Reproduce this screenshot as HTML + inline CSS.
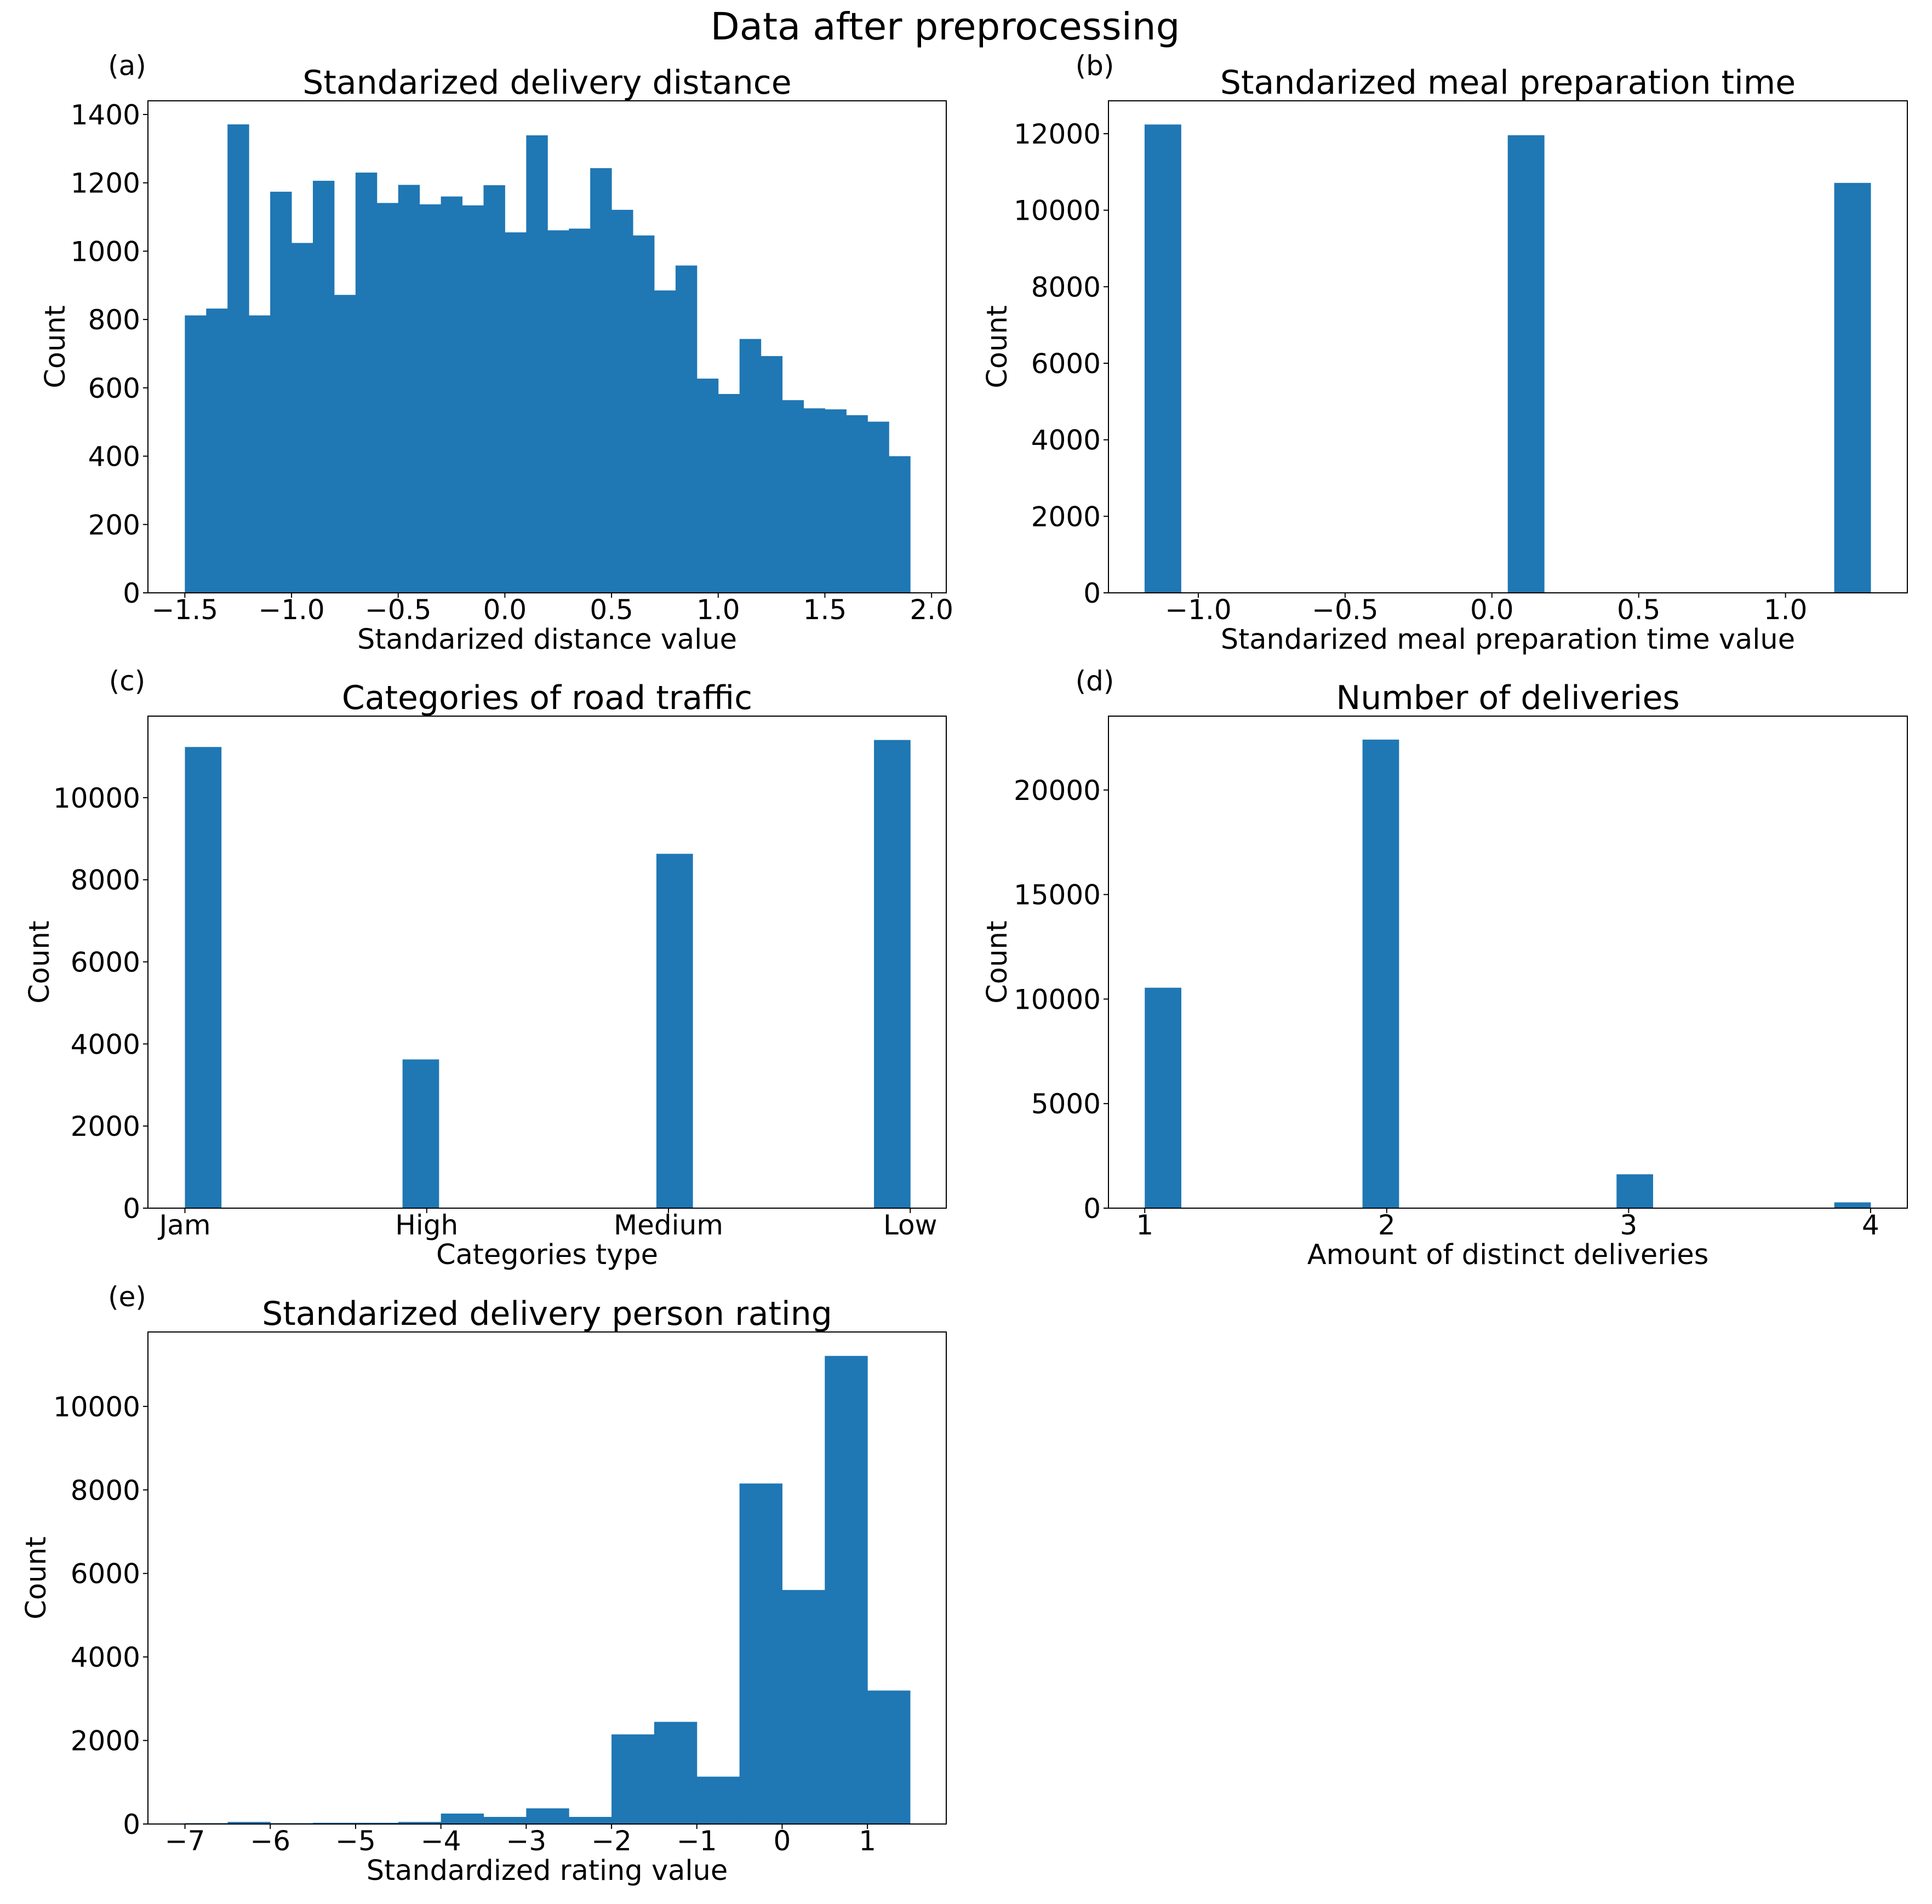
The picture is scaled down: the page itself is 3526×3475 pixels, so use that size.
<!DOCTYPE html>
<html><head><meta charset="utf-8">
<style>
html,body{margin:0;padding:0;background:#fff;}
svg text{font-family:"DejaVu Sans","Liberation Sans",sans-serif;fill:#000;}
</style></head>
<body>
<svg id="fig" xmlns="http://www.w3.org/2000/svg" width="3526" height="3470" viewBox="0 0 3526 3470">
<rect x="0" y="0" width="3526" height="3470" fill="#fff"/>
<text x="1725" y="72" font-size="69" text-anchor="middle">Data after preprocessing</text>
</svg>
<script>
// (a) delivery distance histogram
const distBinStart = -1.5;
const distBinWidth = 0.1;
const distCounts = [812,832,1371,812,1174,1024,1206,872,1230,1141,1194,1137,1160,1134,1193,1055,1339,1061,1066,1243,1121,1046,885,958,627,582,743,693,564,540,537,520,501,400];
const distTicks = [-1.5,-1.0,-0.5,0.0,0.5,1.0,1.5,2.0];
const distTickLabels = ["−1.5","−1.0","−0.5","0.0","0.5","1.0","1.5","2.0"];
const distYTicks = [0,200,400,600,800,1000,1200,1400];
// (b) meal preparation time
const prepLeft = [-1.183,0.054,1.166];
const prepRight = [-1.059,0.178,1.290];
const prepCounts = [12240,11960,10714];
const prepTicks = [-1.0,-0.5,0.0,0.5,1.0];
const prepTickLabels = ["−1.0","−0.5","0.0","0.5","1.0"];
const prepYTicks = [0,2000,4000,6000,8000,10000,12000];
// (c) road traffic
const trafficCategories = ["Jam","High","Medium","Low"];
const trafficLeft = [0,0.9,1.95,2.85];
const trafficRight = [0.15,1.05,2.1,3.0];
const trafficCounts = [11234,3623,8632,11405];
const trafficTicks = [0,1,2,3];
const trafficYTicks = [0,2000,4000,6000,8000,10000];
// (d) number of deliveries
const delivLeft = [1.0,1.9,2.95,3.85];
const delivRight = [1.15,2.05,3.1,4.0];
const delivCounts = [10543,22410,1619,276];
const delivTicks = [1,2,3,4];
const delivTickLabels = ["1","2","3","4"];
const delivYTicks = [0,5000,10000,15000,20000];
// (e) rating
const ratingBinStart = -7;
const ratingBinWidth = 0.5;
const ratingCounts = [20,50,20,30,30,50,250,170,375,170,2146,2446,1134,8154,5604,11209,3196];
const ratingTicks = [-7,-6,-5,-4,-3,-2,-1,0,1];
const ratingTickLabels = ["−7","−6","−5","−4","−3","−2","−1","0","1"];
const ratingYTicks = [0,2000,4000,6000,8000,10000];

const NS="http://www.w3.org/2000/svg";
const svg=document.getElementById('fig');
function mk(tag,attrs,parent){const e=document.createElementNS(NS,tag);for(const k in attrs)e.setAttribute(k,attrs[k]);(parent||svg).appendChild(e);return e;}

function panel(cfg){
  const g=mk('g',{});
  
  
  const xs=v=>cfg.x0+(v-cfg.xmin)/(cfg.xmax-cfg.xmin)*(cfg.x1-cfg.x0);
  const ys=v=>cfg.y1-(v)/(cfg.ymax)*(cfg.y1-cfg.y0);
  for(let i=0;i<cfg.lefts.length;i++){
    const l=xs(cfg.lefts[i]), r=xs(cfg.rights[i]), t=ys(cfg.counts[i]);
    const b=mk('rect',{x:l,y:t,width:Math.max(0,r-l+0.5),height:cfg.y1-t,fill:'#1f77b4'},g);
    
    
  }
  const fr=mk('rect',{x:cfg.x0,y:cfg.y0,width:cfg.x1-cfg.x0,height:cfg.y1-cfg.y0,fill:'none',stroke:'#000','stroke-width':2},g);
  
  
  cfg.xticks.forEach((v,i)=>{
    const x=xs(v);
    mk('line',{x1:x,x2:x,y1:cfg.y1,y2:cfg.y1+9,stroke:'#000','stroke-width':2},g);
    const t=mk('text',{x:x,y:cfg.y1+48,'font-size':50,'text-anchor':'middle'},g);
    t.textContent=cfg.xlabels[i];
    
    
  });
  cfg.yticks.forEach(v=>{
    const y=ys(v);
    mk('line',{x1:cfg.x0-9,x2:cfg.x0,y1:y,y2:y,stroke:'#000','stroke-width':2},g);
    const t=mk('text',{x:cfg.x0-14,y:y+18,'font-size':50,'text-anchor':'end'},g);
    t.textContent=String(v);
    
    
  });
  const cx=(cfg.x0+cfg.x1)/2, cy=(cfg.y0+cfg.y1)/2;
  const ti=mk('text',{x:cx,y:cfg.y0-13,'font-size':60,'text-anchor':'middle'},g);
  ti.textContent=cfg.title;
  
  
  const xl=mk('text',{x:cx,y:cfg.y1+102,'font-size':51,'text-anchor':'middle'},g);
  xl.textContent=cfg.xtitle;
  
  
  const yl=mk('text',{x:0,y:0,'font-size':51,'text-anchor':'middle',transform:`translate(${cfg.ylx+18},${cy}) rotate(-90)`},g);
  yl.textContent='Count';
  
  
  const pl=mk('text',{x:cfg.lblx,y:cfg.y0-47,'font-size':50,'text-anchor':'middle'},g);
  pl.textContent=cfg.letter;
  
  
}

panel({name:'delivery-distance',x0:270,x1:1727,y0:184,y1:1082,xmin:-1.673,xmax:2.069,ymax:1440,
  lefts:distCounts.map((c,i)=>distBinStart+i*distBinWidth),rights:distCounts.map((c,i)=>distBinStart+(i+1)*distBinWidth),counts:distCounts,
  xticks:distTicks,xlabels:distTickLabels,yticks:distYTicks,title:'Standarized delivery distance',xtitle:'Standarized distance value',ylx:100,lblx:232,letter:'(a)'});
panel({name:'meal-preparation',x0:2023,x1:3481,y0:184,y1:1082,xmin:-1.306,xmax:1.415,ymax:12859,
  lefts:prepLeft,rights:prepRight,counts:prepCounts,
  xticks:prepTicks,xlabels:prepTickLabels,yticks:prepYTicks,title:'Standarized meal preparation time',xtitle:'Standarized meal preparation time value',ylx:1819,lblx:1998,letter:'(b)'});
panel({name:'road-traffic',x0:270,x1:1727,y0:1307,y1:2205,xmin:-0.153,xmax:3.149,ymax:11986,
  lefts:trafficLeft,rights:trafficRight,counts:trafficCounts,
  xticks:trafficTicks,xlabels:trafficCategories,yticks:trafficYTicks,title:'Categories of road traffic',xtitle:'Categories type',ylx:71,lblx:232,letter:'(c)'});
panel({name:'number-of-deliveries',x0:2023,x1:3481,y0:1307,y1:2205,xmin:0.85,xmax:4.152,ymax:23533,
  lefts:delivLeft,rights:delivRight,counts:delivCounts,
  xticks:delivTicks,xlabels:delivTickLabels,yticks:delivYTicks,title:'Number of deliveries',xtitle:'Amount of distinct deliveries',ylx:1819,lblx:1998,letter:'(d)'});
panel({name:'person-rating',x0:270,x1:1727,y0:2431,y1:3329,xmin:-7.434,xmax:1.924,ymax:11782,
  lefts:ratingCounts.map((c,i)=>ratingBinStart+i*ratingBinWidth),rights:ratingCounts.map((c,i)=>ratingBinStart+(i+1)*ratingBinWidth),counts:ratingCounts,
  xticks:ratingTicks,xlabels:ratingTickLabels,yticks:ratingYTicks,title:'Standarized delivery person rating',xtitle:'Standardized rating value',ylx:65,lblx:232,letter:'(e)'});
</script>
</body></html>
